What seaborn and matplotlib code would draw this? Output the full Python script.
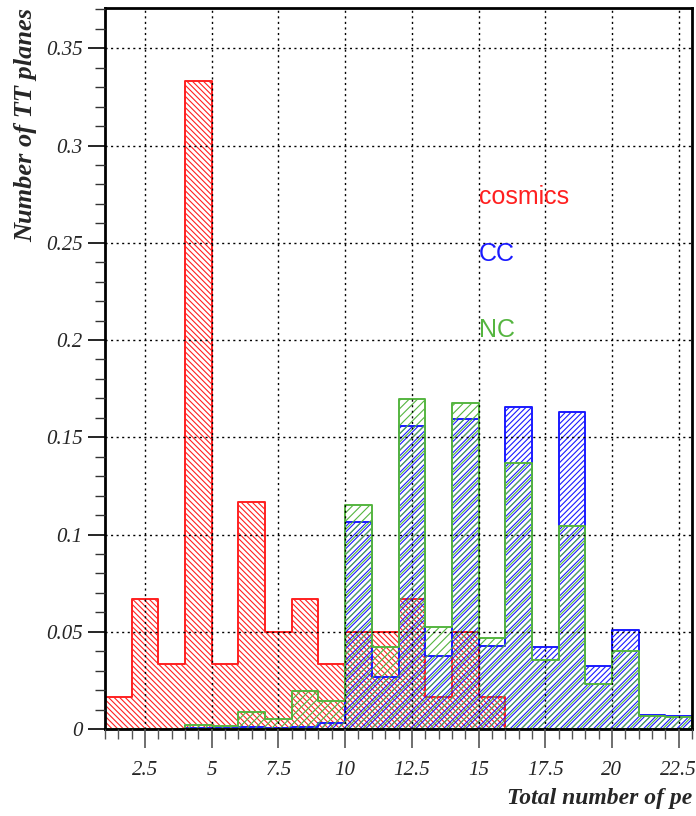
import numpy as np
import pandas as pd
import matplotlib
matplotlib.use("Agg")
import matplotlib.pyplot as plt
import seaborn as sns
from matplotlib.ticker import MultipleLocator, FuncFormatter

# ---- data ----
bin_edges = list(range(1, 24))  # 1..23, width 1
bin_centers = [e + 0.5 for e in range(1, 23)]

cosmics = [0.0167, 0.0667, 0.0333, 0.3333, 0.0333, 0.1167, 0.05, 0.0667, 0.0333,
           0.05, 0.05, 0.0667, 0.0167, 0.05, 0.0167, 0, 0, 0, 0, 0, 0, 0]
cc = [0, 0, 0, 0.0005, 0.0005, 0.001, 0.0005, 0.001, 0.003,
      0.1064, 0.0267, 0.1559, 0.0373, 0.1593, 0.0428, 0.1655, 0.0421, 0.1629,
      0.0322, 0.051, 0.0073, 0.0065]
nc = [0, 0, 0, 0.002, 0.0015, 0.0088, 0.005, 0.0197, 0.0142,
      0.1154, 0.042, 0.1697, 0.0524, 0.1677, 0.0466, 0.137, 0.0353, 0.1045,
      0.0231, 0.0399, 0.0065, 0.0063]

labels = ["cosmics", "CC", "NC"]
colors = ["#ff2020", "#1a1aff", "#55b540"]
hatches = ["\\" * 6, "/" * 6, "/" * 4]

x_ticks = [2.5, 5, 7.5, 10, 12.5, 15, 17.5, 20, 22.5]
y_ticks = [0, 0.05, 0.1, 0.15, 0.2, 0.25, 0.3, 0.35]

# ---- figure ----
sns.set_style("white")
plt.rcParams["hatch.linewidth"] = 0.8

fig = plt.figure(figsize=(6.96, 8.16), dpi=100)
ax = fig.add_axes([105 / 696, 1 - 729 / 816, (692 - 105) / 696, (729 - 8) / 816])

series = [cosmics, cc, nc]
for vals, lab, col, h in zip(series, labels, colors, hatches):
    df = pd.DataFrame({"x": bin_centers, "w": vals})
    n_before = len(ax.collections)
    sns.histplot(data=df, x="x", weights="w", bins=bin_edges, element="step",
                 fill=True, color=col, ax=ax, linewidth=1.4)
    for coll in ax.collections[n_before:]:
        coll.set_facecolor("none")
        coll.set_edgecolor(col)
        coll.set_hatch(h)
        coll.set_linewidth(1.4)

ax.set_xlim(1, 23)
ax.set_ylim(0, 0.3707)

# grid
ax.set_xticks(x_ticks)
ax.set_yticks(y_ticks)
ax.xaxis.set_minor_locator(MultipleLocator(0.5))
ax.yaxis.set_minor_locator(MultipleLocator(0.01))
ax.grid(True, which="major", linestyle=(0, (1.5, 2.5)), color="black", linewidth=1.0)
ax.set_axisbelow(False)

def fmt(v, pos):
    s = ("%.2f" % v).rstrip("0").rstrip(".")
    return s

ax.xaxis.set_major_formatter(FuncFormatter(fmt))
ax.yaxis.set_major_formatter(FuncFormatter(fmt))

for lbl in ax.get_xticklabels() + ax.get_yticklabels():
    lbl.set_fontfamily("Liberation Serif")
    lbl.set_fontstyle("italic")
    lbl.set_fontsize(15)

ax.tick_params(axis="x", which="major", direction="out", length=14, width=1.2,
               color="#555555", pad=9, bottom=True)
ax.tick_params(axis="x", which="minor", direction="out", length=7, width=1.0,
               color="#555555", bottom=True)
ax.tick_params(axis="y", which="major", direction="out", length=12, width=1.2,
               color="black", pad=4, left=True)
ax.tick_params(axis="y", which="minor", direction="out", length=7, width=1.0,
               color="#333333", left=True)

for sp in ax.spines.values():
    sp.set_visible(True)
    sp.set_color("black")
    sp.set_linewidth(2)

ax.set_xlabel("Total number of pe", fontfamily="Liberation Serif", fontstyle="italic",
              fontweight="bold", fontsize=17, loc="right", labelpad=6)
ax.set_ylabel("Number of TT planes", fontfamily="Liberation Serif", fontstyle="italic",
              fontweight="bold", fontsize=19, loc="top", labelpad=6)

# legend-like labels
legend_pos = [(15.0, 0.2735), (15.0, 0.2443), (15.0, 0.2050)]
for lab, col, (lx, ly) in zip(labels, colors, legend_pos):
    ax.text(lx, ly, lab, color=col, fontsize=18, fontfamily="Liberation Sans",
            va="center", ha="left")

fig.savefig("out.png", dpi=100)
